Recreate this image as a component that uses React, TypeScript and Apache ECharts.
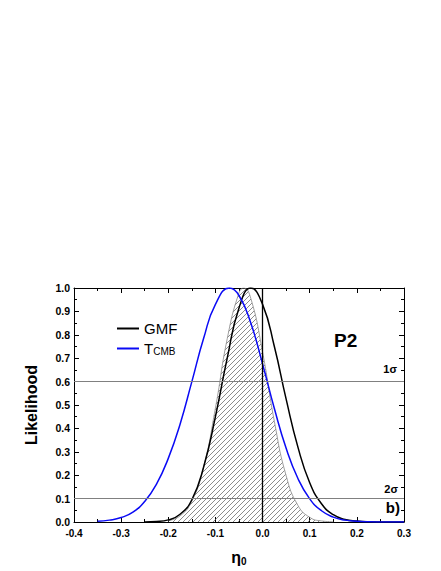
import React, { useEffect, useRef } from "react";
import * as echarts from "echarts";

// GMF likelihood (black)
const gmfEta = [-0.25, -0.225, -0.2, -0.175, -0.15, -0.125, -0.1, -0.075, -0.05, -0.025, 0, 0.025, 0.05, 0.075, 0.1, 0.125, 0.15, 0.175, 0.2, 0.225, 0.25, 0.3];
const gmfL = [0.0003, 0.002, 0.009, 0.033, 0.095, 0.235, 0.45, 0.7, 0.915, 1.0, 0.93, 0.75, 0.525, 0.32, 0.168, 0.078, 0.031, 0.011, 0.004, 0.001, 0.0003, 0];

// T_CMB likelihood (blue)
const tcmbEta = [-0.35, -0.325, -0.3, -0.275, -0.25, -0.225, -0.2, -0.175, -0.15, -0.125, -0.1, -0.07, -0.05, -0.025, 0, 0.025, 0.05, 0.075, 0.1, 0.125, 0.15, 0.175, 0.2, 0.225, 0.25, 0.275, 0.3];
const tcmbL = [0.003, 0.008, 0.019, 0.042, 0.088, 0.162, 0.272, 0.418, 0.6, 0.785, 0.93, 1.0, 0.968, 0.85, 0.675, 0.485, 0.315, 0.186, 0.099, 0.048, 0.021, 0.008, 0.003, 0.001, 0.0003, 0, 0];

// Combined (hatched) likelihood
const combEta = [-0.2, -0.175, -0.15, -0.125, -0.1, -0.075, -0.05, -0.04, -0.025, 0, 0.025, 0.05, 0.075, 0.1, 0.125, 0.15];
const combL = [0.006, 0.026, 0.089, 0.236, 0.487, 0.783, 0.98, 1.0, 0.956, 0.726, 0.43, 0.198, 0.071, 0.02, 0.0045, 0.001];

const sigmaLevels = [0.6, 0.1];
const sigmaLabels = ["1σ", "2σ"];

const xTicks = { min: -0.4, max: 0.3, step: 0.1 };
const yTicks = { min: 0, max: 1, step: 0.1 };

const FONT = "'Liberation Sans', Arial, sans-serif";

export default function App() {
  const ref = useRef<HTMLDivElement>(null);
  useEffect(() => {
    if (!ref.current) return;
    const chart = echarts.init(ref.current, null, { renderer: "svg" });

    const tile = document.createElement("canvas");
    tile.width = 5;
    tile.height = 5;
    const ctx = tile.getContext("2d")!;
    ctx.strokeStyle = "#5a5a5a";
    ctx.lineWidth = 0.7;
    ctx.beginPath();
    ctx.moveTo(-1, 6);
    ctx.lineTo(6, -1);
    ctx.moveTo(-1, 1);
    ctx.lineTo(1, -1);
    ctx.moveTo(4, 6);
    ctx.lineTo(6, 4);
    ctx.stroke();

    const pair = (xs: number[], ys: number[]) => xs.map((x, i) => [x, ys[i]]);

    const axisCommon = {
      axisLine: { show: true, onZero: false, lineStyle: { color: "#000", width: 1 } },
      axisTick: { show: true, inside: true, length: 5, lineStyle: { color: "#000" } },
      minorTick: { show: true, splitNumber: 2, length: 3, lineStyle: { color: "#000" } },
      splitLine: { show: false },
    };

    const option: any = {
      animation: false,
      backgroundColor: "#fff",
      grid: { left: 74, top: 288, right: 37, bottom: 49, containLabel: false },
      legend: {
        orient: "vertical",
        left: 116,
        top: 321,
        padding: 0,
        itemWidth: 22,
        itemHeight: 14,
        itemGap: 5,
        itemStyle: { opacity: 0 },
        data: ["GMF", "TCMB"],
        textStyle: {
          fontFamily: FONT,
          fontSize: 15,
          color: "#000",
          rich: {
            m: { fontFamily: FONT, fontSize: 15, color: "#000" },
            s: { fontFamily: FONT, fontSize: 10, color: "#000", verticalAlign: "bottom", padding: [6, 0, 0, 0] },
          },
        },
        formatter: (n: string) => (n === "TCMB" ? "{m|T}{s|CMB}" : "{m|" + n + "}"),
      },
      xAxis: [
        {
          type: "value",
          min: xTicks.min,
          max: xTicks.max,
          interval: xTicks.step,
          ...axisCommon,
          axisLabel: {
            margin: 6,
            fontFamily: FONT,
            fontWeight: "bold",
            fontSize: 10,
            color: "#000",
            formatter: (v: number) => (Math.abs(v) < 1e-9 ? "0.0" : v.toFixed(1)),
          },
          name: "{a|η}{b|0}",
          nameLocation: "middle",
          nameGap: 26,
          nameTextStyle: {
            rich: {
              a: { fontFamily: FONT, fontSize: 16, fontWeight: "bold", color: "#000" },
              b: { fontFamily: FONT, fontSize: 10, fontWeight: "bold", color: "#000", padding: [8, 0, 0, 0] },
            },
          },
        },
        {
          type: "value",
          position: "top",
          min: xTicks.min,
          max: xTicks.max,
          interval: xTicks.step,
          ...axisCommon,
          axisLabel: { show: false },
        },
      ],
      yAxis: [
        {
          type: "value",
          position: "left",
          min: yTicks.min,
          max: yTicks.max,
          interval: yTicks.step,
          ...axisCommon,
          axisLabel: {
            margin: 4,
            fontFamily: FONT,
            fontWeight: "bold",
            fontSize: 10.5,
            color: "#000",
            formatter: (v: number) => v.toFixed(1),
          },
          name: "Likelihood",
          nameLocation: "middle",
          nameGap: 35,
          nameTextStyle: { fontFamily: FONT, fontSize: 16, fontWeight: "bold", color: "#000" },
        },
        {
          type: "value",
          position: "right",
          min: yTicks.min,
          max: yTicks.max,
          interval: yTicks.step,
          ...axisCommon,
          axisLabel: { show: false },
        },
      ],
      series: [
        {
          name: "Combined",
          type: "line",
          data: pair(combEta, combL),
          smooth: true,
          symbol: "none",
          lineStyle: { color: "#888", width: 0.8 },
          areaStyle: { color: { image: tile, repeat: "repeat" }, opacity: 1 },
          z: 1,
        },
        {
          name: "GMF",
          type: "line",
          data: pair(gmfEta, gmfL),
          smooth: true,
          symbol: "none",
          lineStyle: { color: "#000", width: 1.5 },
          itemStyle: { color: "#000" },
          z: 3,
          markLine: {
            silent: true,
            symbol: "none",
            label: { show: false },
            data: [
              ...sigmaLevels.map((v) => ({ yAxis: v, lineStyle: { color: "#808080", width: 1, type: "solid" } })),
              { xAxis: 0, lineStyle: { color: "#000", width: 1.3, type: "solid" } },
            ],
          },
        },
        {
          name: "TCMB",
          type: "line",
          data: pair(tcmbEta, tcmbL),
          smooth: true,
          symbol: "none",
          lineStyle: { color: "#0a0af5", width: 1.5 },
          itemStyle: { color: "#0a0af5" },
          z: 4,
        },
      ],
      graphic: [
        {
          type: "text",
          x: 334,
          y: 340,
          style: { text: "P2", font: "bold 19px " + FONT, fill: "#000", align: "left", verticalAlign: "middle" },
        },
        {
          type: "text",
          x: 397,
          y: 369,
          style: { text: sigmaLabels[0], font: "bold 11px " + FONT, fill: "#000", align: "right", verticalAlign: "middle" },
        },
        {
          type: "text",
          x: 398,
          y: 489,
          style: { text: sigmaLabels[1], font: "bold 11px " + FONT, fill: "#000", align: "right", verticalAlign: "middle" },
        },
        {
          type: "text",
          x: 400,
          y: 507,
          style: { text: "b)", font: "bold 15px " + FONT, fill: "#000", align: "right", verticalAlign: "middle" },
        },
      ],
    };
    chart.setOption(option);
    return () => chart.dispose();
  }, []);
  return <div ref={ref} style={{ position: "absolute", left: 0, top: 0, width: 441, height: 571 }} />;
}
